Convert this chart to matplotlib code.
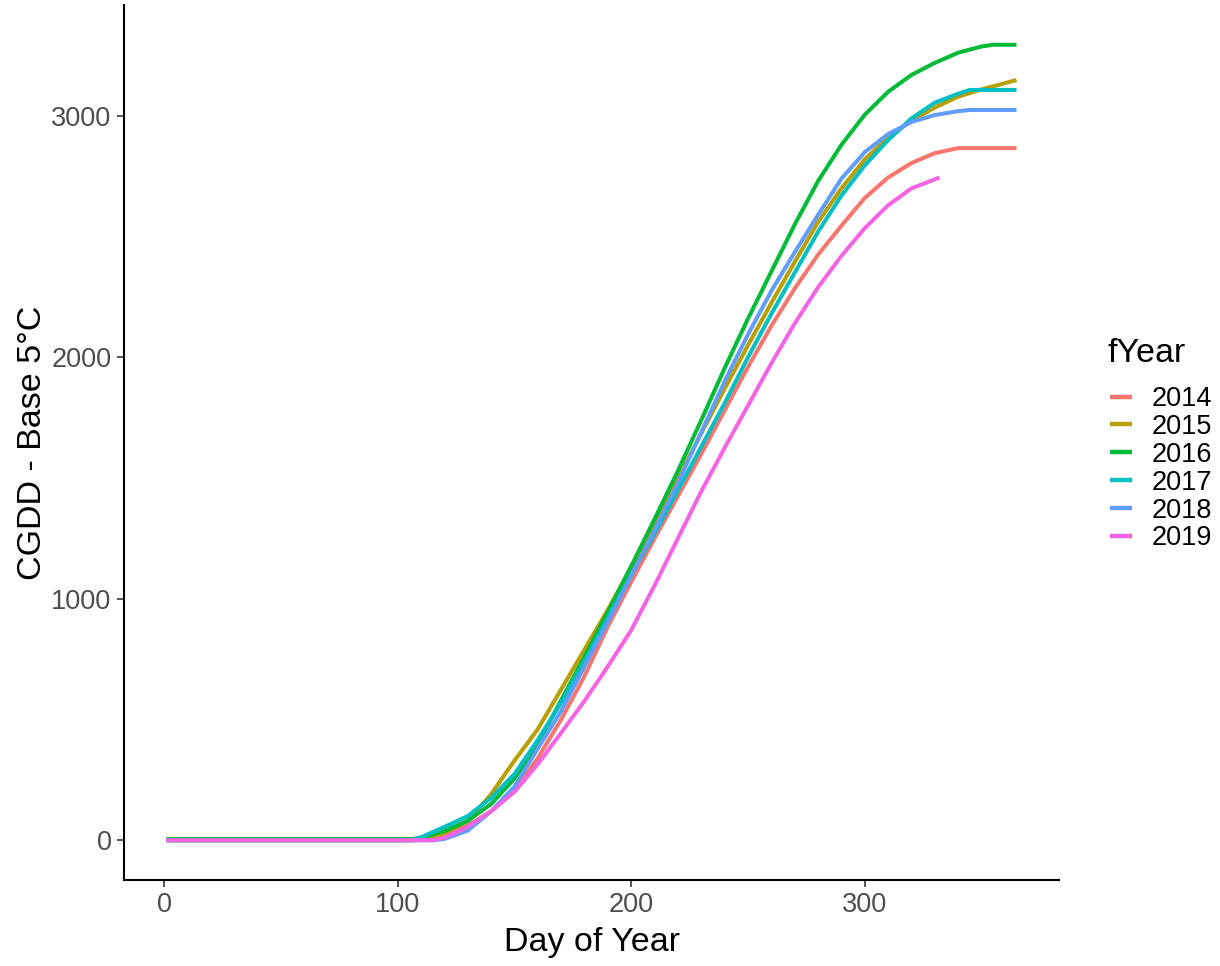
import matplotlib
matplotlib.use("Agg")
import matplotlib.pyplot as plt

# ---- data ----
years = ["2014", "2015", "2016", "2017", "2018", "2019"]
colors = ["#F8766D", "#B79F00", "#00BA38", "#00BFC4", "#619CFF", "#F564E3"]

days_2014 = [1, 100, 108, 110, 120, 130, 140, 150, 160, 170, 180, 190, 200, 210, 220, 230, 240, 250, 260, 270, 280, 290, 300, 310, 320, 330, 340, 365]
cgdd_2014 = [0, 0, 0, 2, 22, 60, 120, 205, 340, 500, 680, 885, 1070, 1250, 1425, 1600, 1780, 1960, 2130, 2285, 2425, 2545, 2660, 2745, 2805, 2846, 2867, 2867]

days_2015 = [1, 100, 106, 110, 120, 130, 140, 150, 160, 170, 180, 190, 200, 210, 220, 230, 240, 250, 260, 270, 280, 290, 300, 310, 320, 330, 340, 350, 365]
cgdd_2015 = [0, 0, 0, 5, 28, 80, 190, 330, 460, 625, 790, 955, 1130, 1310, 1500, 1685, 1870, 2050, 2225, 2395, 2560, 2700, 2820, 2910, 2980, 3035, 3080, 3110, 3149]

days_2016 = [1, 100, 106, 110, 120, 130, 140, 150, 160, 170, 180, 190, 200, 210, 220, 230, 240, 250, 260, 270, 280, 290, 300, 310, 320, 330, 340, 350, 355, 365]
cgdd_2016 = [5, 5, 5, 10, 38, 80, 150, 255, 400, 580, 760, 945, 1135, 1330, 1530, 1740, 1955, 2160, 2355, 2550, 2730, 2880, 3005, 3100, 3170, 3220, 3262, 3288, 3295, 3295]

days_2017 = [1, 100, 106, 110, 120, 130, 140, 150, 160, 170, 180, 190, 200, 210, 220, 230, 240, 250, 260, 270, 280, 290, 300, 310, 320, 330, 340, 345, 365]
cgdd_2017 = [0, 0, 0, 12, 55, 100, 175, 274, 415, 570, 740, 920, 1100, 1270, 1450, 1630, 1810, 2000, 2180, 2350, 2520, 2670, 2795, 2900, 2990, 3055, 3092, 3108, 3108]

days_2018 = [1, 100, 115, 120, 130, 140, 150, 160, 170, 180, 190, 200, 210, 220, 230, 240, 250, 260, 270, 280, 290, 300, 310, 320, 330, 340, 345, 365]
cgdd_2018 = [0, 0, 0, 5, 40, 120, 222, 380, 535, 720, 905, 1095, 1285, 1480, 1690, 1900, 2095, 2275, 2435, 2590, 2740, 2850, 2925, 2975, 3004, 3020, 3025, 3025]

days_2019 = [1, 100, 115, 120, 130, 140, 150, 160, 170, 180, 190, 200, 210, 220, 230, 240, 250, 260, 270, 280, 290, 300, 310, 320, 332]
cgdd_2019 = [0, 0, 0, 10, 55, 120, 200, 315, 445, 577, 720, 870, 1055, 1250, 1445, 1625, 1800, 1975, 2140, 2290, 2420, 2535, 2630, 2700, 2745]

series_days = [days_2014, days_2015, days_2016, days_2017, days_2018, days_2019]
series_vals = [cgdd_2014, cgdd_2015, cgdd_2016, cgdd_2017, cgdd_2018, cgdd_2019]

xticks = [0, 100, 200, 300]
yticks = [0, 1000, 2000, 3000]

# ---- figure ----
plt.rcParams['font.family'] = ['Liberation Sans', 'DejaVu Sans']
W, H = 1220, 966
fig = plt.figure(figsize=(W / 100, H / 100), dpi=100)
left, right, bottom, top = 124, 1059, 880, 5
ax = fig.add_axes([left / W, 1 - bottom / H, (right - left) / W, (bottom - top) / H])

for yr, d, v, c in zip(years, series_days, series_vals, colors):
    ax.plot(d, v, color=c, lw=2.9, label=yr, solid_capstyle='butt')

ax.set_xlim(-17.2, 383.2)
ax.set_ylim(-164.75, 3459.75)
ax.set_xticks(xticks)
ax.set_yticks(yticks)
ax.set_xticklabels([str(t) for t in xticks])
ax.set_yticklabels([str(t) for t in yticks])

for s in ['top', 'right']:
    ax.spines[s].set_visible(False)
for s in ['left', 'bottom']:
    ax.spines[s].set_linewidth(1.5)
    ax.spines[s].set_color('black')
ax.tick_params(axis='both', length=5, width=1.2, color='#333333',
               labelsize=19.5, labelcolor='#4D4D4D', pad=4)

ax.set_xlabel("Day of Year", fontsize=24.5, color='black', labelpad=6)
ax.set_ylabel("CGDD - Base 5\u00b0C", fontsize=24.5, color='black', labelpad=2)

leg = ax.legend(frameon=False, loc='upper left',
                bbox_to_anchor=(1110 / W, 1 - 386 / H), bbox_transform=fig.transFigure,
                fontsize=19.5, handlelength=0.81, borderpad=0, borderaxespad=0,
                handletextpad=0.74, labelspacing=0.07)
for line in leg.get_lines():
    line.set_linewidth(3.2)

fig.text(1108 / W, 1 - 353 / H, "fYear", fontsize=24.5, ha='left', va='center')

fig.savefig("out.png", dpi=100)
